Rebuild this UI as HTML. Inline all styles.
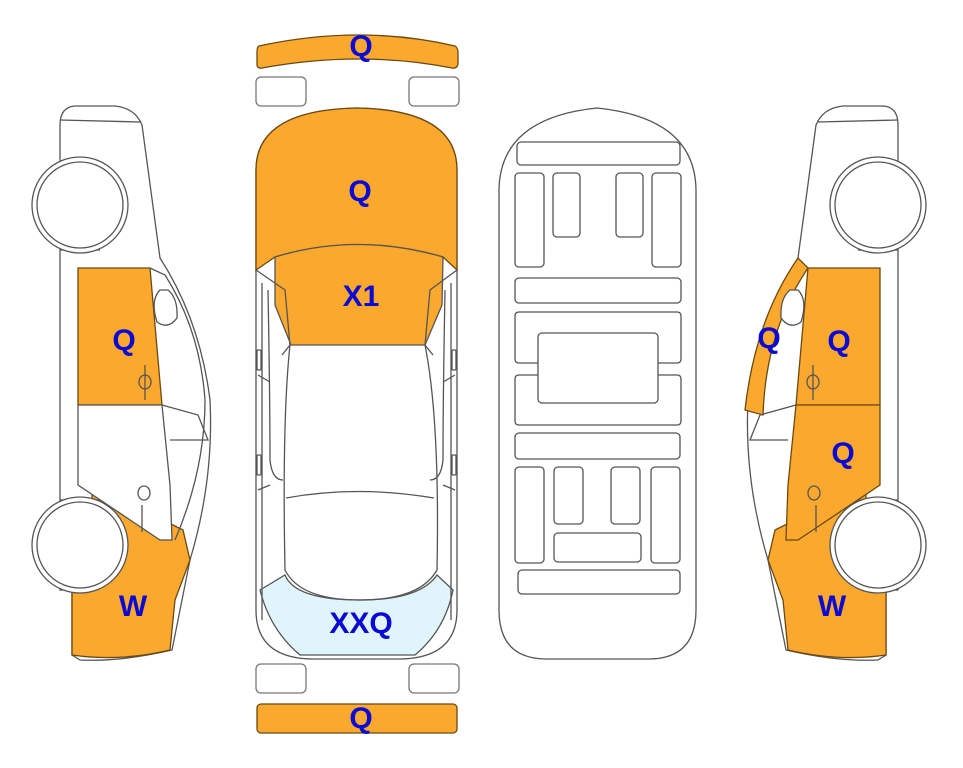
<!DOCTYPE html>
<html><head><meta charset="utf-8"><style>
html,body{margin:0;padding:0;background:#fff;}
svg{display:block;}
text{font-family:"Liberation Sans",Arial,sans-serif;font-weight:bold;font-size:30px;fill:#0a0ad2;text-anchor:middle;}
</style></head><body>
<svg width="963" height="768" viewBox="0 0 963 768" xmlns="http://www.w3.org/2000/svg">
<g stroke="#555" stroke-width="1.3" fill="none">
<path d="M259,46 Q360,24 455,46 Q458,48 458,52 L458,64 Q457,69 452,68 Q360,50 262,68 Q257,69 257,64 L257,52 Q257,47 259,46Z" fill="#fba82f" stroke="#6a4a10"/>
<rect x="256" y="77" width="50" height="29" rx="5" stroke="#777"/>
<rect x="409" y="77" width="50" height="29" rx="5" stroke="#777"/>
<rect x="256" y="664" width="50" height="29" rx="5" stroke="#777"/>
<rect x="409" y="664" width="50" height="29" rx="5" stroke="#777"/>
<rect x="257" y="704" width="200" height="29" rx="4" fill="#fba82f" stroke="#6a4a10"/>

<path d="M256,260 L256,170 Q256,110 357,108 Q457,110 457,170 L457,610 Q457,658 400,659 L312,659 Q256,658 256,610 Z" fill="#fff"/>
<path d="M256,270 L256,170 Q256,110 357,108 Q457,110 457,170 L457,270 L443,257 Q357,232 275,257 Z" fill="#fba82f" stroke="#6a4a10"/>
<path d="M275,257 Q357,232 443,257 L442,305 L425,345 L291,345 L275,305 Z" fill="#fba82f" stroke="#555"/>
<path d="M260,590 Q270,630 300,655 L415,655 Q445,630 453,590 L437,575 Q420,600 360,600 Q295,600 285,575 Z" fill="#e0f5fb" stroke="#555"/>
<path d="M256,270 L285,290 L290,345 L282,355"/>
<path d="M457,270 L430,290 L425,345 L433,355"/>
<path d="M290,345 Q282,420 285,570 Q300,600 360,600 Q420,600 437,570 Q440,420 425,345"/>
<path d="M286,498 Q357,485 434,498"/>
<path d="M262,283 L262,620 M451,283 L451,620"/>
<path d="M268,290 Q270,400 270,460 Q272,480 283,480 M445,290 Q443,400 443,460 Q441,480 430,480"/>
<path d="M258,375 L270,382 M455,375 L443,382 M258,490 L270,485 M455,490 L443,485"/>
<rect x="257" y="350" width="4" height="20" rx="1"/><rect x="452" y="350" width="4" height="20" rx="1"/>
<rect x="257" y="455" width="4" height="20" rx="1"/><rect x="452" y="455" width="4" height="20" rx="1"/>

<path d="M499,190 Q500,118 597,108 Q695,118 696,190 L696,610 Q696,658 650,659 L545,659 Q499,658 499,610 Z"/>
<rect x="517" y="142" width="163" height="23" rx="4"/>
<rect x="515" y="173" width="29" height="94" rx="4"/>
<rect x="553" y="173" width="27" height="64" rx="4"/>
<rect x="616" y="173" width="27" height="64" rx="4"/>
<rect x="652" y="173" width="29" height="94" rx="4"/>
<rect x="515" y="278" width="166" height="25" rx="4"/>
<path d="M538,363 L519,363 Q515,363 515,359 L515,316 Q515,312 519,312 L677,312 Q681,312 681,316 L681,359 Q681,363 677,363 L658,363"/>
<path d="M538,375 L519,375 Q515,375 515,379 L515,421 Q515,425 519,425 L677,425 Q681,425 681,421 L681,379 Q681,375 677,375 L658,375"/>
<rect x="538" y="333" width="120" height="70" rx="4"/>
<rect x="515" y="433" width="165" height="26" rx="4"/>
<rect x="515" y="467" width="29" height="96" rx="4"/>
<rect x="554" y="467" width="29" height="57" rx="4"/>
<rect x="611" y="467" width="29" height="57" rx="4"/>
<rect x="651" y="467" width="29" height="96" rx="4"/>
<rect x="554" y="533" width="87" height="29" rx="4"/>
<rect x="518" y="570" width="162" height="24" rx="4"/>
</g>

<g stroke="#555" stroke-width="1.3" fill="none">
<path d="M60,125 Q60,107 75,106 L115,106 Q135,108 142,125 L160,258 Q200,320 210,400 Q214,480 190,560 L178,620 L172,650 Q120,662 80,660 L72,655 L72,590 L60,590 L60,500 L60,125 Z" fill="#fff"/>
<path d="M72,580 L72,655 Q120,662 170,650 L175,600 L190,560 L183,530 L92,485 L92,505 Q120,520 125,560 Q118,585 72,580 Z" fill="#fba82f" stroke="#6a4a10"/>
<path d="M78,268 L150,268 L162,405 L78,405 Z" fill="#fba82f" stroke="#6a4a10"/>
<path d="M78,405 L162,405 L170,485 L172,540 L160,540 L78,485 Z" fill="#fff"/>
<path d="M60,120 L140,122 M60,500 L100,500 M60,250 L100,250"/>
<path d="M150,268 L165,275 Q200,330 205,400 Q205,470 175,540"/>
<path d="M162,405 L198,415 L208,440 L170,440"/>
<path d="M160,290 Q150,300 157,322 Q168,330 177,318 Q178,298 168,290 Z" fill="#fff"/>
<path d="M145,365 L145,400 M142,505 L142,532"/>
<ellipse cx="145" cy="382" rx="6" ry="7"/><ellipse cx="144" cy="493" rx="6" ry="7"/>
<circle cx="80" cy="205" r="48" fill="#fff"/>
<circle cx="80" cy="205" r="43" fill="#fff"/>
<circle cx="80" cy="545" r="48" fill="#fff"/>
<circle cx="80" cy="545" r="43" fill="#fff"/>
</g>

<g transform="translate(958,0) scale(-1,1)" stroke="#555" stroke-width="1.3" fill="none">
<path d="M60,125 Q60,107 75,106 L115,106 Q135,108 142,125 L160,258 Q200,320 210,400 Q214,480 190,560 L178,620 L172,650 Q120,662 80,660 L72,655 L72,590 L60,590 L60,500 L60,125 Z" fill="#fff"/>
<path d="M72,580 L72,655 Q120,662 170,650 L175,600 L190,560 L183,530 L92,485 L92,505 Q120,520 125,560 Q118,585 72,580 Z" fill="#fba82f" stroke="#6a4a10"/>
<path d="M160,258 Q203,320 213,410 L195,415 Q192,330 150,268 Z" fill="#fba82f" stroke="#6a4a10"/>
<path d="M78,268 L150,268 L162,405 L78,405 Z" fill="#fba82f" stroke="#6a4a10"/>
<path d="M78,405 L162,405 L170,485 L172,540 L160,540 L78,485 Z" fill="#fba82f" stroke="#6a4a10"/>
<path d="M60,120 L140,122 M60,500 L100,500 M60,250 L100,250"/>
<path d="M162,405 L198,415 L208,440 L170,440"/>
<path d="M160,290 Q150,300 157,322 Q168,330 177,318 Q178,298 168,290 Z" fill="#fff"/>
<path d="M145,365 L145,400 M142,505 L142,532"/>
<ellipse cx="145" cy="382" rx="6" ry="7"/><ellipse cx="144" cy="493" rx="6" ry="7"/>
<circle cx="80" cy="205" r="48" fill="#fff"/>
<circle cx="80" cy="205" r="43" fill="#fff"/>
<circle cx="80" cy="545" r="48" fill="#fff"/>
<circle cx="80" cy="545" r="43" fill="#fff"/>
</g>

<text x="361" y="56">Q</text>
<text x="360" y="201">Q</text>
<text x="361" y="306">X1</text>
<text x="361" y="633">XXQ</text>
<text x="361" y="728">Q</text>
<text x="124" y="350">Q</text>
<text x="133" y="616">W</text>
<text x="769" y="348">Q</text>
<text x="839" y="351">Q</text>
<text x="843" y="463">Q</text>
<text x="832" y="616">W</text>
</svg>
</body></html>
